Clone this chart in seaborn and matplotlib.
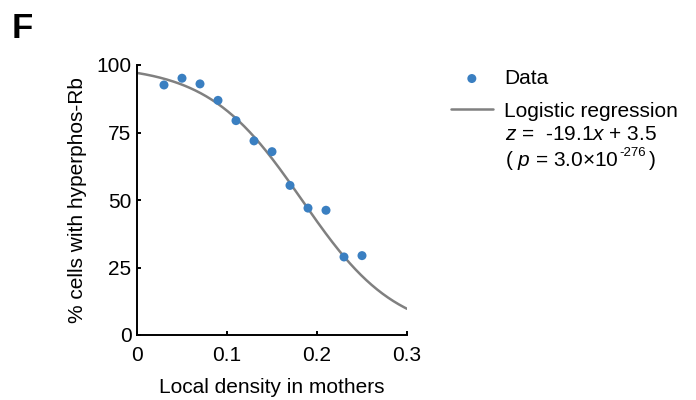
import numpy as np
import pandas as pd
import matplotlib
matplotlib.use("Agg")
import matplotlib.pyplot as plt
import seaborn as sns

density = [0.03, 0.05, 0.07, 0.09, 0.11, 0.13, 0.15, 0.17, 0.19, 0.21, 0.23, 0.25]
pct_hyper = [92.6, 95.1, 93.0, 86.9, 79.4, 71.9, 67.9, 55.4, 47.0, 46.2, 28.9, 29.4]
coef_slope = -19.1
coef_intercept = 3.5
x_ticks = [0, 0.1, 0.2, 0.3]
y_ticks = [0, 25, 50, 75, 100]

sns.set_style("ticks")
plt.rcParams['font.family'] = ['Liberation Sans', 'DejaVu Sans']
plt.rcParams['mathtext.fontset'] = 'custom'
plt.rcParams['mathtext.rm'] = 'Liberation Sans'
plt.rcParams['mathtext.it'] = 'Liberation Sans:italic'
plt.rcParams['text.color'] = 'black'
plt.rcParams['axes.labelcolor'] = 'black'

FS = 15
fig = plt.figure(figsize=(6.96, 4.0), dpi=100)
ax = fig.add_axes([137/696, 65/400, 270/696, 270/400])

df = pd.DataFrame({"x": density, "y": pct_hyper})
xs = np.linspace(0, 0.3, 200)
fit = pd.DataFrame({"x": xs, "y": 100 / (1 + np.exp(-(coef_slope * xs + coef_intercept)))})

sns.lineplot(data=fit, x="x", y="y", ax=ax, color="#808080", lw=1.8, label="Logistic regression", legend=False)
sns.scatterplot(data=df, x="x", y="y", ax=ax, color="#3a7fc1", s=42, edgecolor="none", label="Data", legend=False, zorder=3)

ax.set_xlim(0, 0.3)
ax.set_ylim(0, 100)
ax.set_xticks(x_ticks)
ax.set_xticklabels(["0", "0.1", "0.2", "0.3"])
ax.set_yticks(y_ticks)
ax.set_yticklabels([str(v) for v in y_ticks])
ax.tick_params(direction="in", length=3, width=1.4, labelsize=FS, colors="black")
ax.tick_params(axis="x", pad=8)
ax.tick_params(axis="y", pad=4)
for s in ["top", "right"]:
    ax.spines[s].set_visible(False)
for s in ["left", "bottom"]:
    ax.spines[s].set_linewidth(1.4)
    ax.spines[s].set_color("black")
ax.set_xlabel("Local density in mothers", fontsize=FS, labelpad=9)
ax.set_ylabel("% cells with hyperphos-Rb", fontsize=FS, labelpad=7)

h, l = ax.get_legend_handles_labels()
order = [l.index("Data"), l.index("Logistic regression")]
leg = ax.legend([h[i] for i in order], [l[i] for i in order], loc="upper left",
                bbox_to_anchor=(451/696, 1 - 69/400), bbox_transform=fig.transFigure,
                frameon=False, fontsize=FS, handlelength=2.0, handletextpad=0.55,
                labelspacing=0.65, borderaxespad=0, borderpad=0)

fig.text(505/696, 1 - 134/400, r"$z$ =  -19.1$x$ + 3.5", fontsize=FS, va="center", ha="left")
t1 = fig.text(505/696, 1 - 160/400, r"( $p$ = 3.0×10", fontsize=FS, va="center", ha="left")
fig.canvas.draw()
r = fig.canvas.get_renderer()
bb = t1.get_window_extent(r)
t2 = fig.text((bb.x1 + 1) / 696, (1 - 153/400), "-276", fontsize=9.5, va="center", ha="left")
bb2 = t2.get_window_extent(r)
fig.text((bb2.x1 + 2) / 696, 1 - 160/400, ")", fontsize=FS, va="center", ha="left")
fig.text(12/696, 1 - 28/400, "F", fontsize=25, fontweight="bold", va="center", ha="left")

fig.savefig("out.png", dpi=100)
